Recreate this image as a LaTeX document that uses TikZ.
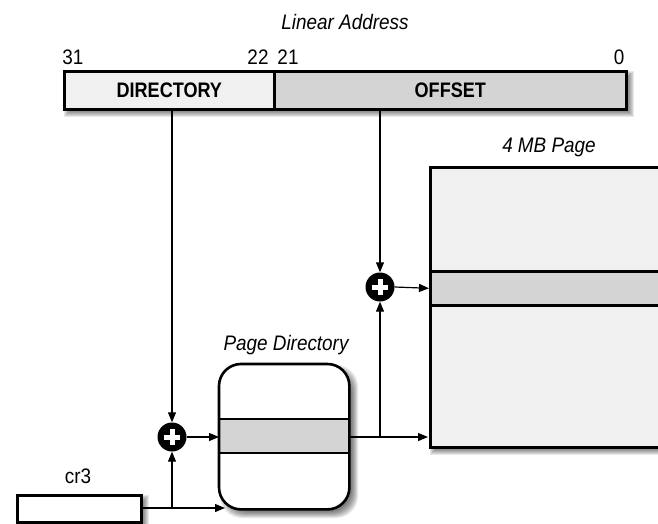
\documentclass[tikz,border=0pt]{standalone}
\usepackage{fontspec}
\setmainfont{Liberation Sans}[FakeStretch=0.9]
\usetikzlibrary{arrows.meta,calc}
\definecolor{lite}{HTML}{F0F0F0}
\definecolor{band}{HTML}{D4D4D4}
\newcommand{\softshadow}[5]{% x1 y1 x2 y2 radius
  \foreach \k in {-4,...,3}{
    \fill[black,opacity=0.09,rounded corners=#5]
      ($(#1,#2)+(5+\k,5+\k)$) rectangle ($(#3,#4)+(5-\k,5-\k)$);}}
\begin{document}
\begin{tikzpicture}[x=1pt,y=-1pt,
  box/.style={draw=black,line width=2.6pt},
  conn/.style={line width=1.2pt,-{Triangle[length=10pt,width=8pt]}},
  lab/.style={font=\fontsize{21}{24}\selectfont,inner sep=0pt},
  bld/.style={font=\fontsize{21}{24}\selectfont\bfseries\addfontfeature{FakeStretch=0.86}},
  ttl/.style={font=\fontsize{21}{24}\selectfont\itshape,inner sep=0pt},
  plus/.style={circle,fill=black,minimum size=29pt,inner sep=0pt},
  cross/.style={white,line width=5pt}]
\useasboundingbox (0,0) rectangle (658,524);
% shadows
\softshadow{63}{70}{625}{108.5}{0pt}
\softshadow{429}{166}{700}{446}{0pt}
\softshadow{219}{364}{349}{509}{22pt}
\softshadow{16}{494}{140}{521}{0pt}
% linear address
\node[ttl] (la) at (345,22) {Linear Address};
\node[lab] (b31) at (73,57) {31};
\node[lab] (b22) at (258,57) {22};
\node[lab] (b21) at (288,57) {21};
\node[lab] (b0) at (619,57) {0};
\node[box,fill=lite,minimum width=210pt,minimum height=38.5pt,anchor=north west,inner sep=0pt,bld] (dir) at (63,70) {DIRECTORY};
\node[box,fill=band,minimum width=352pt,minimum height=38.5pt,anchor=north west,inner sep=0pt,bld] (off) at (273,70) {OFFSET};
% 4 MB page
\node[ttl] (mbt) at (549,147) {4 MB Page};
\node[box,fill=lite,minimum width=271pt,minimum height=280pt,anchor=north west,inner sep=0pt] (mb) at (429,166) {};
\node[box,fill=band,minimum width=271pt,minimum height=34pt,anchor=north west,inner sep=0pt] (mbband) at (429,270) {};
% page directory
\node[ttl] (pdt) at (286,345) {Page Directory};
\node[fill=white,rounded corners=22pt,minimum width=130pt,minimum height=145pt,anchor=north west,inner sep=0pt] (pd) at (219,364) {};
\fill[band] (pd.west |- 0,419) rectangle (pd.east |- 0,453);
\draw[line width=2.6pt] (pd.west |- 0,419) -- (pd.east |- 0,419);
\draw[line width=2.6pt] (pd.west |- 0,453) -- (pd.east |- 0,453);
\draw[box,rounded corners=22pt] (pd.north west) rectangle (pd.south east);
\coordinate (pdin) at (219,437);
\coordinate (pdout) at (349,437);
% cr3
\node[lab] (crt) at (78,476) {cr3};
\node[box,fill=white,minimum width=124pt,minimum height=27pt,anchor=north west,inner sep=0pt] (cr) at (16,494) {};
% adders
\node[plus] (p1) at (380,287) {};
\draw[cross] ([xshift=-8pt]p1.center) -- ([xshift=8pt]p1.center);
\draw[cross] ([yshift=-8pt]p1.center) -- ([yshift=8pt]p1.center);
\node[plus] (p2) at (172,437) {};
\draw[cross] ([xshift=-8pt]p2.center) -- ([xshift=8pt]p2.center);
\draw[cross] ([yshift=-8pt]p2.center) -- ([yshift=8pt]p2.center);
% connectors
\coordinate (dirbot) at (172,108.5);
\coordinate (offbot) at (380,108.5);
\draw[conn] (dirbot) -- (p2.north);
\draw[conn] (offbot) -- (p1.north);
\coordinate (crsplit) at (172,508);
\coordinate (pdbot) at (225,508);
\draw[conn] (cr.east |- crsplit) -- (pdbot);
\draw[conn] (crsplit) -- (p2.south);
\draw[conn] (p2.east) -- (pdin);
\coordinate (mbin) at (428,437);
\coordinate (pdsplit) at (380,437);
\draw[conn] (pdout) -- (mbin);
\draw[conn] (pdsplit) -- (p1.south);
\draw[conn] (p1.east) -- (mbband.west);
\end{tikzpicture}
\end{document}
